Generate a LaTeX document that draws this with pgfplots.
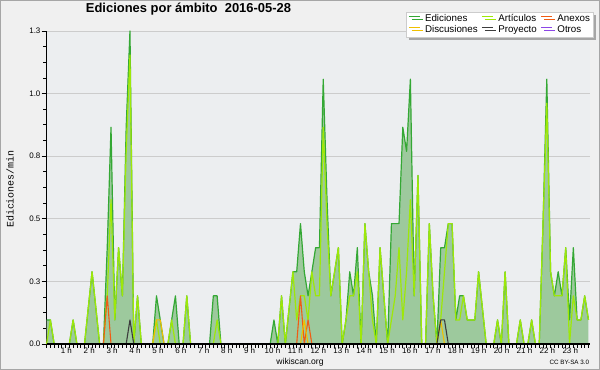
\documentclass[border=0pt]{standalone}
\usepackage{fontspec}
\setmainfont{Liberation Sans}
\newfontfamily\monofont{Liberation Mono}
\usepackage{pgfplots}
\usepackage{pgfplotstable}
\pgfplotsset{compat=1.18}
\usetikzlibrary{shadows}

\definecolor{outerbg}{RGB}{240,240,240}
\definecolor{plotbg}{RGB}{236,238,240}
\definecolor{edfill}{RGB}{157,201,157}
\definecolor{edline}{RGB}{52,168,52}
\definecolor{artline}{RGB}{158,232,8}
\definecolor{anxline}{RGB}{240,92,20}
\definecolor{disline}{RGB}{240,192,0}
\definecolor{proline}{RGB}{60,60,60}
\definecolor{otrline}{RGB}{140,70,230}

\pgfplotstableread{
i ed art
0 0.1 0
1 0.1 0.1
2 0 0
3 0 0
4 0 0
5 0 0
6 0 0
7 0.1 0.1
8 0 0
9 0 0
10 0 0
11 0.15 0.15
12 0.3 0.3
13 0.15 0.15
14 0 0
15 0 0
16 0.4 0.2
17 0.9 0.6
18 0.1 0.1
19 0.4 0.4
20 0.2 0.2
21 0.9 0.8
22 1.3 1.2
23 0 0
24 0.2 0.2
25 0 0
26 0 0
27 0 0
28 0 0
29 0.2 0.1
30 0.1 0
31 0 0
32 0 0
33 0.1 0.1
34 0.2 0
35 0 0
36 0 0
37 0.2 0.2
38 0 0
39 0 0
40 0 0
41 0 0
42 0 0
43 0 0
44 0.2 0
45 0.2 0.1
46 0 0
47 0 0
48 0 0
49 0 0
50 0 0
51 0 0
52 0 0
53 0 0
54 0 0
55 0 0
56 0 0
57 0 0
58 0 0
59 0 0
60 0.1 0
61 0 0
62 0.2 0.2
63 0 0
64 0.15 0.15
65 0.3 0.3
66 0.3 0.1
67 0.5 0.2
68 0.3 0.2
69 0.2 0.1
70 0.3 0.3
71 0.4 0.2
72 0.4 0.2
73 1.1 0.9
74 0.6 0.5
75 0.2 0.2
76 0.3 0.3
77 0.4 0.4
78 0 0
79 0.1 0.1
80 0.3 0.2
81 0.2 0.2
82 0.4 0.3
83 0 0
84 0.5 0.5
85 0.3 0.3
86 0.2 0.1
87 0 0
88 0.4 0.4
89 0.2 0.2
90 0 0
91 0.5 0.1
92 0.5 0.2
93 0.5 0.4
94 0.9 0.1
95 0.8 0.3
96 1.1 0.6
97 0.2 0.2
98 0.7 0.7
99 0 0
100 0 0
101 0.5 0.5
102 0.2 0.2
103 0 0
104 0.4 0.1
105 0.4 0.3
106 0.5 0.5
107 0.5 0.5
108 0.1 0.1
109 0.2 0.1
110 0.2 0.2
111 0.1 0.1
112 0.1 0.1
113 0.1 0.1
114 0.3 0.3
115 0.15 0.15
116 0 0
117 0 0
118 0 0
119 0.1 0.1
120 0 0
121 0.3 0.3
122 0 0
123 0 0
124 0 0
125 0.1 0.1
126 0 0
127 0 0
128 0.1 0.1
129 0 0
130 0 0
131 0.5 0.5
132 1.1 1.0
133 0.3 0.3
134 0.2 0.2
135 0.3 0.2
136 0.2 0.2
137 0.4 0.4
138 0.1 0
139 0.4 0.2
140 0.1 0.1
141 0.1 0.1
142 0.2 0.2
143 0.1 0.1
}\edits

\begin{document}
\begin{tikzpicture}
\useasboundingbox (0,0) rectangle (600bp,370bp);
\fill[outerbg] (0,0) rectangle (600bp,370bp);
\draw[gray!70, line width=1bp] (0.5bp,0.5bp) rectangle (599.5bp,369.5bp);
\begin{axis}[
  at={(46.6bp,26bp)}, anchor=south west,
  scale only axis, width=543.4bp, height=313bp,
  xmin=0, xmax=143.4, ymin=0, ymax=1.3,
  clip=false,
  axis lines*=left,
  axis line style={black, line width=1bp},
  axis background/.style={fill=plotbg},
  tick align=outside,
  major tick length=5bp, minor tick length=3.5bp,
  every tick/.style={black, line width=0.8bp},
  xtick={5.201,11.246,17.291,23.336,29.381,35.426,41.471,47.516,53.561,59.606,65.651,71.696,77.741,83.786,89.831,95.876,101.921,107.966,114.011,120.056,126.101,132.146,138.191},
  xticklabels={1 h,2 h,3 h,4 h,5 h,6 h,7 h,8 h,9 h,10 h,11 h,12 h,13 h,14 h,15 h,16 h,17 h,18 h,19 h,20 h,21 h,22 h,23 h},
  major x tick style={draw=none},
  minor xtick={0,1,...,143},
  ytick={0,0.26,0.52,0.78,1.04,1.3},
  yticklabels={0.0,0.3,0.5,0.8,1.0,1.3},
  minor ytick={0.065,0.13,0.195,0.325,0.39,0.455,0.585,0.65,0.715,0.845,0.91,0.975,1.105,1.17,1.235},
  ymajorgrids,
  major grid style={draw={rgb,255:red,204;green,204;blue,204}, line width=0.9bp},
  xticklabel style={font=\fontsize{8}{9}\selectfont, anchor=base, inner sep=0pt, yshift=-4.6bp},
  yticklabel style={font=\fontsize{8}{9}\selectfont, anchor=east, inner sep=0pt, xshift=-1bp},
  ylabel={Ediciones/min},
  ylabel style={font=\monofont\fontsize{10}{11}\selectfont, at={(axis description cs:-0.0673,0.495)}, anchor=center},
  title={Ediciones por ámbito\ \ 2016-05-28},
  title style={font=\bfseries\fontsize{13}{14}\selectfont, at={(axis description cs:0.2611,1.0406)}, anchor=base, inner sep=0pt},
  unbounded coords=jump,
  legend columns=3,
  legend cell align=left,
  legend image code/.code={\draw[#1, line width=1bp] (0bp,3bp) -- (11bp,3bp);},
  legend style={at={(axis description cs:1.0055,1.0617)}, anchor=north east,
    draw=gray!40, fill=white, inner sep=2bp,
    font=\fontsize{9.8}{10}\selectfont,
    drop shadow={shadow xshift=3bp, shadow yshift=-3bp, fill=gray!70, opacity=1},
    nodes={inner sep=0.8bp, text height=7.2bp, text depth=2bp},
    /tikz/every odd column/.append style={column sep=4bp},
    /tikz/every even column/.append style={column sep=3bp}},
]
\addplot[fill=edfill, draw=none, forget plot] table[x=i, y=ed] {\edits} \closedcycle;
\addplot[edline, line width=1.2bp, line join=round] table[x=i, y=ed] {\edits};
\addlegendentry{Ediciones}
\addplot[artline, line width=1.2bp, line join=round] table[x=i, y=art] {\edits};
\addlegendentry{Artículos}
\addplot[anxline, line width=1.1bp, line join=round] coordinates {(15,0) (16,0.2) (17,0) (40,nan) (66,0) (67,0.2) (68,0) (69,0.1) (70,0)};
\addlegendentry{Anexos}
\addplot[disline, line width=1.1bp, line join=round] coordinates {(28,0) (29,0.1) (30,0.1) (31,0) (50,nan) (67,0) (68,0.1) (69,0) (90,nan) (103,0) (104,0.1) (105,0)};
\addlegendentry{Discusiones}
\addplot[proline, line width=1.1bp, line join=round] coordinates {(21,0) (22,0.1) (23,0) (60,nan) (103,0) (104,0.1) (105,0.1) (106,0)};
\addlegendentry{Proyecto}
\addlegendimage{otrline}
\addlegendentry{Otros}
\draw[black, line width=1.2bp] (axis cs:0,0) -- (axis cs:143.4,0);
\end{axis}
\node[font=\fontsize{8.6}{10}\selectfont, anchor=base, inner sep=0pt] at (300bp,6bp) {wikiscan.org};
\node[font=\fontsize{6.3}{7}\selectfont, anchor=base east, inner sep=0pt] at (589.3bp,5.7bp) {CC BY-SA 3.0};
\end{tikzpicture}
\end{document}
